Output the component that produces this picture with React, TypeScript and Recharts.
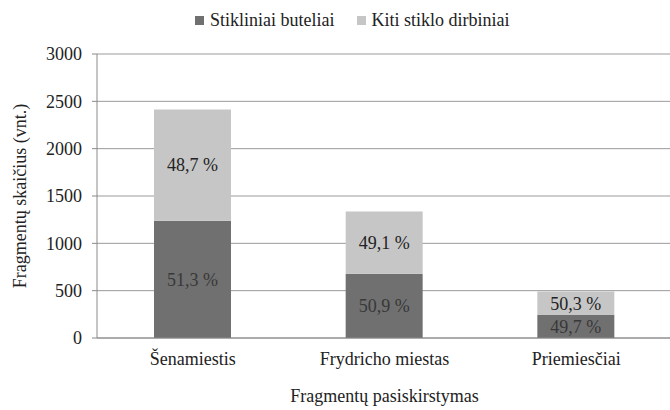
import React from 'react';
import { BarChart, Bar, XAxis, YAxis, CartesianGrid, Legend, LabelList } from 'recharts';

const categories = ['Šenamiestis', 'Frydricho miestas', 'Priemiesčiai'];
const bottles = [1239, 680, 244];
const others = [1176, 655, 246];
const bottlesPct = ['51,3 %', '50,9 %', '49,7 %'];
const othersPct = ['48,7 %', '49,1 %', '50,3 %'];
const yTicks = [0, 500, 1000, 1500, 2000, 2500, 3000];
const seriesNames = ['Stikliniai buteliai', 'Kiti stiklo dirbiniai'];
const seriesColors = ['#707070', '#c6c6c6'];

const data = categories.map((name, i) => ({
  name,
  bottles: bottles[i],
  others: others[i],
  bPct: bottlesPct[i],
  oPct: othersPct[i],
}));

const FONT = "'Liberation Serif', serif";

const LegendContent = () => (
  <div style={{ display: 'flex', justifyContent: 'flex-start', fontFamily: FONT, fontSize: 18, color: '#222', paddingLeft: 195 }}>
    {seriesNames.map((n, i) => (
      <span key={n} style={{ display: 'inline-flex', alignItems: 'center', marginRight: i === 0 ? 22 : 0 }}>
        <span style={{ display: 'inline-block', width: 9, height: 9, background: seriesColors[i], marginRight: 6 }} />
        {n}
      </span>
    ))}
  </div>
);

const tickStyle = { fill: '#222', fontSize: 18, fontFamily: FONT };

export default function App() {
  return (
    <div style={{ position: 'fixed', left: 0, top: 0, width: 670, height: 410, overflow: 'hidden', background: '#fff', fontFamily: FONT }}>
      <BarChart
        width={676}
        height={410}
        data={data}
        margin={{ top: 10, right: 4, left: 0, bottom: 0 }}
        style={{ fontFamily: FONT }}
      >
        <Legend verticalAlign="top" align="center" height={44} content={<LegendContent />} />
        <CartesianGrid vertical={false} stroke="#9a9a9a" />
        <XAxis
          dataKey="name"
          height={72}
          tickLine={false}
          axisLine={{ stroke: '#8a8a8a' }}
          tick={tickStyle}
          tickMargin={8}
          label={{ value: 'Fragmentų pasiskirstymas', position: 'insideBottom', offset: 8, fill: '#222', fontSize: 18, fontFamily: FONT }}
        />
        <YAxis
          width={97}
          domain={[0, 3000]}
          ticks={yTicks}
          interval={0}
          tickSize={5}
          tickMargin={10}
          tickLine={{ stroke: '#8a8a8a' }}
          axisLine={{ stroke: '#8a8a8a' }}
          tick={tickStyle}
          label={{ value: 'Fragmentų skaičius (vnt.)', angle: -90, position: 'insideLeft', offset: 20, fill: '#222', fontSize: 18, fontFamily: FONT, style: { textAnchor: 'middle' } }}
        />
        <Bar dataKey="bottles" name={seriesNames[0]} stackId="a" fill={seriesColors[0]} barSize={77} isAnimationActive={false}>
          <LabelList dataKey="bPct" position="center" fill="#383838" fontSize={18} fontFamily={FONT} />
        </Bar>
        <Bar dataKey="others" name={seriesNames[1]} stackId="a" fill={seriesColors[1]} barSize={77} isAnimationActive={false}>
          <LabelList dataKey="oPct" position="center" fill="#222" fontSize={18} fontFamily={FONT} />
        </Bar>
      </BarChart>
    </div>
  );
}
